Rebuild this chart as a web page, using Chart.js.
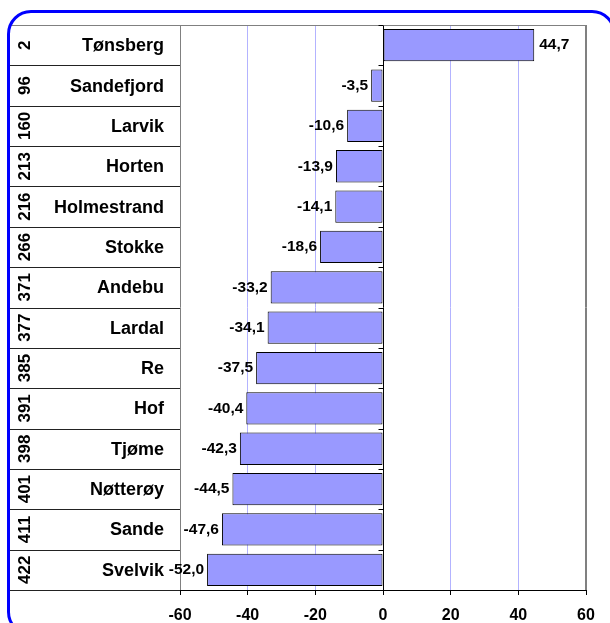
<!DOCTYPE html>
<html>
<head>
<meta charset="utf-8">
<script src="https://cdn.jsdelivr.net/npm/chart.js@4.4.0/dist/chart.umd.min.js"></script>
<style>
html, body { margin: 0; padding: 0; background: #fff; }
#wrap { position: relative; width: 610px; height: 623px; overflow: hidden; }
#chart { position: absolute; left: 0; top: 0; }
#ramme { position: absolute; left: 7px; top: 10px; width: 603px; height: 620px;
         border: 3px solid #0000ff; border-radius: 24px; pointer-events: none; }
</style>
</head>
<body>
<div id="wrap">
  <canvas id="chart" width="610" height="623"></canvas>
  <div id="ramme"></div>
</div>
<script>
// data
var kommuner = ['Tønsberg', 'Sandefjord', 'Larvik', 'Horten', 'Holmestrand', 'Stokke', 'Andebu',
                'Lardal', 'Re', 'Hof', 'Tjøme', 'Nøtterøy', 'Sande', 'Svelvik'];
var rangering = ['2', '96', '160', '213', '216', '266', '371', '377', '385', '391', '398', '401', '411', '422'];
var endring = [44.7, -3.5, -10.6, -13.9, -14.1, -18.6, -33.2, -34.1, -37.5, -40.4, -42.3, -44.5, -47.6, -52.0];
var xTicks = [-60, -40, -20, 0, 20, 40, 60];

var FONT = '"Liberation Sans", Arial, sans-serif';

function komma(v) {
    return v.toFixed(1).replace('.', ',');
}

function strek(ctx, x1, y1, x2, y2) {
    ctx.beginPath();
    ctx.moveTo(x1, y1);
    ctx.lineTo(x2, y2);
    ctx.stroke();
}

// tabellen til venstre + verdietiketter
var tabell = {
    id: 'tabell',
    afterDatasetsDraw: function(chart) {
        var ctx = chart.ctx;
        var meta = chart.getDatasetMeta(0);
        ctx.save();
        ctx.font = 'bold 15.5px ' + FONT;
        ctx.fillStyle = '#000';
        ctx.textBaseline = 'middle';
        meta.data.forEach(function(bar, i) {
            var v = endring[i];
            if (v < 0) {
                ctx.textAlign = 'right';
                ctx.fillText(komma(v), bar.x - 3, bar.y);
            } else {
                ctx.textAlign = 'left';
                ctx.fillText(komma(v), bar.x + 5, bar.y);
            }
        });
        ctx.restore();
    },
    afterDraw: function(chart) {
        var ctx = chart.ctx;
        var a = chart.chartArea;
        var ys = chart.scales.y;
        var xs = chart.scales.x;
        var rad = ys.getPixelForValue(1) - ys.getPixelForValue(0);
        var x0 = Math.round(xs.getPixelForValue(0)) + 0.5;
        ctx.save();
        ctx.lineWidth = 1;

        // ramme rundt plottet (topp og høyre)
        ctx.strokeStyle = '#808080';
        strek(ctx, 10, Math.round(a.top) + 0.5, a.right, Math.round(a.top) + 0.5);
        strek(ctx, Math.round(a.right) - 0.5, a.top, Math.round(a.right) - 0.5, a.bottom);

        // radlinjer og små merker ved nullaksen
        for (var i = 1; i <= kommuner.length; i++) {
            var py = Math.round(ys.getPixelForValue(i) - rad / 2) + 0.5;
            ctx.strokeStyle = '#222';
            strek(ctx, 10, py, a.left, py);
            ctx.strokeStyle = '#000';
            strek(ctx, x0 - 5, py, x0, py);
        }
        ctx.strokeStyle = '#000';
        strek(ctx, x0 - 5, Math.round(a.top) + 0.5, x0, Math.round(a.top) + 0.5);

        // navn
        ctx.fillStyle = '#000';
        ctx.textBaseline = 'middle';
        ctx.font = 'bold 18px ' + FONT;
        ctx.textAlign = 'right';
        kommuner.forEach(function(navn, i) {
            ctx.fillText(navn, 164, ys.getPixelForValue(i) + 1);
        });

        // rangering, rotert
        ctx.font = 'bold 17px ' + FONT;
        ctx.textAlign = 'center';
        rangering.forEach(function(r, i) {
            ctx.save();
            ctx.translate(25, ys.getPixelForValue(i));
            ctx.rotate(-Math.PI / 2);
            ctx.fillText(r, 0, 0);
            ctx.restore();
        });
        ctx.restore();
    }
};

new Chart(document.getElementById('chart'), {
    type: 'bar',
    data: {
        labels: kommuner,
        datasets: [{
            data: endring,
            backgroundColor: '#9999ff',
            borderColor: '#000',
            borderWidth: 1,
            borderSkipped: false,
            barPercentage: 0.8,
            categoryPercentage: 1
        }]
    },
    options: {
        indexAxis: 'y',
        responsive: false,
        animation: false,
        layout: { padding: { left: 180, top: 25, right: 24, bottom: 0 } },
        plugins: {
            legend: { display: false },
            tooltip: { enabled: false }
        },
        scales: {
            x: {
                min: -60,
                max: 60,
                afterBuildTicks: function(scale) {
                    scale.ticks = xTicks.map(function(v) { return { value: v }; });
                },
                afterFit: function(scale) {
                    scale.height = 33;
                },
                grid: {
                    color: function(c) {
                        var v = c.tick ? c.tick.value : null;
                        if (v === 0) return '#000';
                        if (v === -60 || v === 60) return '#808080';
                        return '#b3b3ff';
                    },
                    tickColor: '#000',
                    tickLength: 5
                },
                border: { color: '#000' },
                ticks: {
                    color: '#000',
                    font: { family: FONT, size: 16, weight: 'bold' },
                    padding: 11,
                    maxRotation: 0
                }
            },
            y: {
                display: false,
                offset: true
            }
        }
    },
    plugins: [tabell]
});
</script>
</body>
</html>
